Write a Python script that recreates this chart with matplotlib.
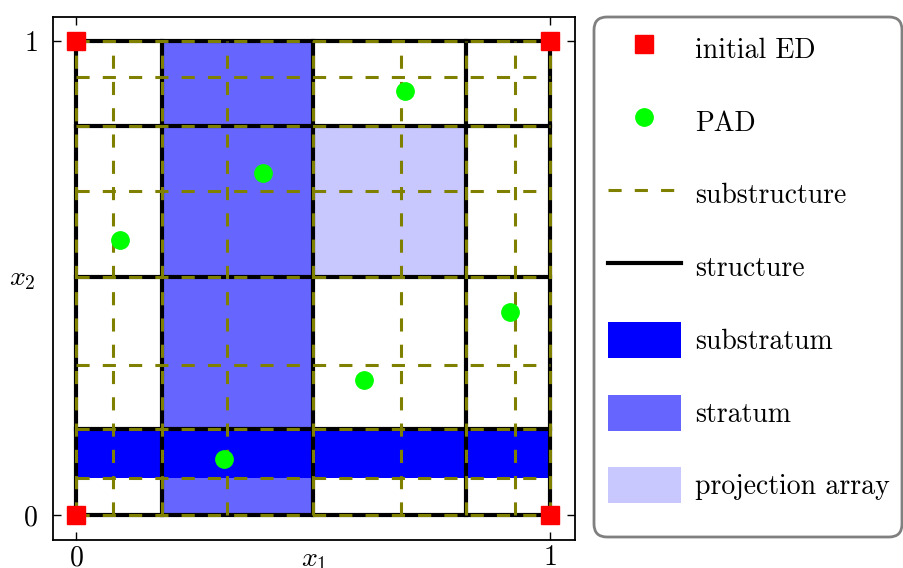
import matplotlib
matplotlib.use('Agg')
import matplotlib.pyplot as plt
from matplotlib.patches import Rectangle, Patch, FancyBboxPatch
from matplotlib.lines import Line2D

plt.rcParams['font.family'] = 'serif'
plt.rcParams['font.serif'] = ['cmr10']
plt.rcParams['mathtext.fontset'] = 'cm'
plt.rcParams['axes.unicode_minus'] = False
plt.rcParams['axes.formatter.use_mathtext'] = True

# grid lines of the design
structure_x = [0, 0.181, 0.501, 0.822, 1]
structure_y = [0, 0.181, 0.503, 0.821, 1]
substructure_x = [0, 0.079, 0.181, 0.319, 0.501, 0.685, 0.822, 0.926, 1]
substructure_y = [0, 0.077, 0.181, 0.316, 0.503, 0.684, 0.821, 0.925, 1]

# shaded regions (x0, x1, y0, y1)
stratum = (0.181, 0.501, 0, 1)
substratum = (0, 1, 0.077, 0.181)
projection = (0.501, 0.822, 0.503, 0.821)

# design points
ed_x = [0, 1, 0, 1]
ed_y = [0, 0, 1, 1]
pad_x = [0.093, 0.395, 0.695, 0.916, 0.608, 0.312]
pad_y = [0.580, 0.722, 0.895, 0.428, 0.285, 0.118]

c_stratum = '#6666ff'
c_substratum = '#0000ff'
c_proj = '#c8c8ff'

fig = plt.figure(figsize=(9.04, 5.68), dpi=100)
ax = fig.add_axes([53/904, 28/568, 522/904, 523/568])

for (x0, x1, y0, y1), c in [(stratum, c_stratum), (projection, c_proj), (substratum, c_substratum)]:
    ax.add_patch(Rectangle((x0, y0), x1 - x0, y1 - y0, facecolor=c, edgecolor='none', zorder=1))

for v in structure_x:
    ax.plot([v, v], [0, 1], color='black', lw=3, zorder=2)
for v in structure_y:
    ax.plot([0, 1], [v, v], color='black', lw=3, zorder=2)
for v in substructure_x:
    ax.plot([v, v], [0, 1], color='olive', lw=2.2, dashes=(4.3, 4.3), zorder=3)
for v in substructure_y:
    ax.plot([0, 1], [v, v], color='olive', lw=2.2, dashes=(4.3, 4.3), zorder=3)

ax.plot(ed_x, ed_y, 's', color='red', markersize=13, zorder=5, clip_on=False)
ax.plot(pad_x, pad_y, 'o', color='#00ff00', markersize=12.5, zorder=5)

ax.set_xlim(-0.0485, 1.053)
ax.set_ylim(-0.053, 1.0506)
ax.set_xticks([0, 1])
ax.set_yticks([0, 1])
ax.tick_params(direction='in', top=True, right=True, length=6, width=1, labelsize=20)
ax.tick_params(axis='x', pad=3.5)
ax.tick_params(axis='y', pad=11)
for s in ax.spines.values():
    s.set_linewidth(1.3)

ax.set_xlabel('$x_1$', fontsize=20)
ax.xaxis.set_label_coords(0.5, -0.013)
ax.set_ylabel('$x_2$', fontsize=20, rotation=0, ha='center', va='center')
ax.yaxis.set_label_coords(-0.059, 0.5)

# legend box drawn separately (rounded, grey edge)
box = FancyBboxPatch((5.94, 0.31), 3.08, 5.20, boxstyle='round,pad=0,rounding_size=0.13',
                     transform=fig.dpi_scale_trans, facecolor='white', edgecolor='0.5',
                     lw=2, zorder=0)
fig.patches.append(box)

handles = [
    Line2D([], [], ls='none', marker='s', color='red', markersize=13),
    Line2D([], [], ls='none', marker='o', color='#00ff00', markersize=12.5),
    Line2D([], [], color='olive', lw=2.2, dashes=(4.3, 4.3)),
    Line2D([], [], color='black', lw=3),
    Patch(facecolor=c_substratum),
    Patch(facecolor=c_stratum),
    Patch(facecolor=c_proj),
]
labels = ['initial ED', 'PAD', 'substructure', 'structure', 'substratum', 'stratum', 'projection array']
leg = fig.legend(handles, labels, loc='upper left', bbox_to_anchor=(594/904, 551/568),
                 fontsize=20, handlelength=2.63, handleheight=1.62, labelspacing=1.32,
                 handletextpad=0.5, borderpad=0.5, borderaxespad=0, frameon=False)

plt.savefig('out.png', dpi=100)
